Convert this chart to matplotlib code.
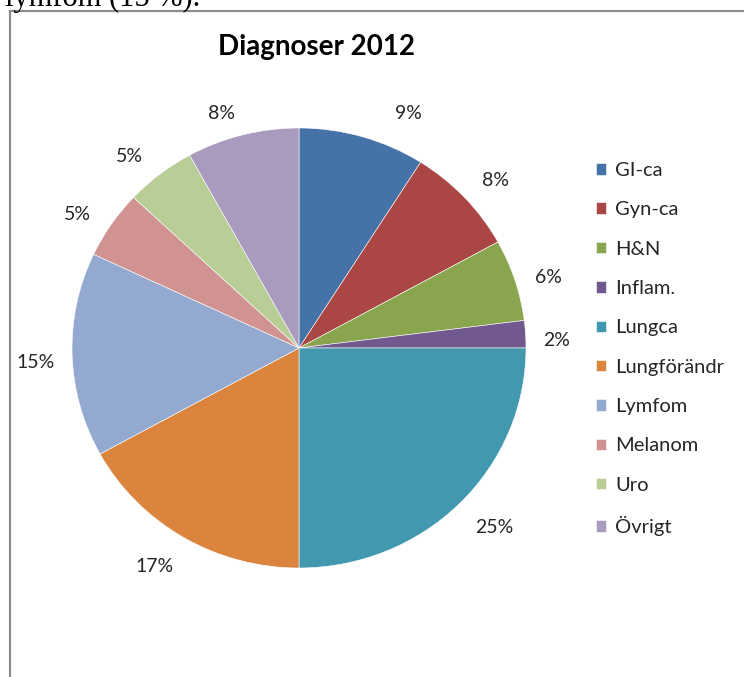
import matplotlib
matplotlib.use('Agg')
import matplotlib.pyplot as plt
from matplotlib.patches import Rectangle
from matplotlib.transforms import offset_copy

W, H = 744, 677

labels = ['GI-ca', 'Gyn-ca', 'H&N', 'Inflam.', 'Lungca', 'Lungförändr',
          'Lymfom', 'Melanom', 'Uro', 'Övrigt']
shares = [9, 8, 6, 2, 25, 17, 15, 5, 5, 8]
colors = ['#4572A7', '#AA4643', '#89A54E', '#71588F', '#4198AF',
          '#DB843D', '#93A9CF', '#D19392', '#B9CD96', '#A99BBD']

title = 'Diagnoser 2012'
doc_text = 'lymfom (15 %).'

# small pixel nudges so the data labels sit where Excel put them
label_nudge = [(36, -10), (5, -6), (0, -8), (-4, -8), (10, 0),
               (-11, 0), (-1, -7), (-5, -9), (-9, -9), (-12, -12)]

plt.rcParams['font.family'] = ['Lato', 'DejaVu Sans']

fig = plt.figure(figsize=(W / 100, H / 100), dpi=100)
fig.patch.set_facecolor('white')

# frame of the embedded chart, runs off the right and bottom edges
fig.patches.append(Rectangle((10 / W, -0.05), 1.0, (H - 11) / H + 0.05,
                             transform=fig.transFigure, fill=False,
                             edgecolor='#8c8c8c', linewidth=1.6))

# leftover line of the surrounding document, cut by the top edge
fig.text(200 / W, 1 - 6 / H, doc_text, ha='right', va='baseline',
         fontsize=22, family='Liberation Serif', color='black')

# pie is slightly wider than tall in the original
cx, cy, rx, ry = 299, 348, 227, 220
ax = fig.add_axes([(cx - rx) / W, (H - cy - ry) / H, 2 * rx / W, 2 * ry / H])
wedges, texts, autotexts = ax.pie(
    shares, colors=colors, startangle=90, counterclock=False,
    autopct='%1.0f%%', pctdistance=1.155,
    wedgeprops=dict(edgecolor='white', linewidth=0.4),
    textprops=dict(fontsize=14, color='#262626'))
ax.set_aspect('auto')
ax.set_xlim(-1, 1)
ax.set_ylim(-1, 1)
ax.axis('off')

for t, (dx, dy) in zip(autotexts, label_nudge):
    t.set_transform(offset_copy(ax.transData, fig=fig, x=dx, y=dy,
                                units='dots'))

fig.text(317 / W, 1 - 47 / H, title, ha='center', va='center',
         fontsize=20, fontweight='bold', color='black')

leg = fig.legend(wedges, labels, loc='upper left',
                 bbox_to_anchor=(596 / W, 1 - 162 / H),
                 frameon=False, fontsize=14.5, handlelength=0.5,
                 handleheight=0.5, handletextpad=0.45, labelspacing=1.11,
                 borderaxespad=0, borderpad=0)
for t in leg.get_texts():
    t.set_color('#262626')

fig.savefig('out.png', dpi=100)
